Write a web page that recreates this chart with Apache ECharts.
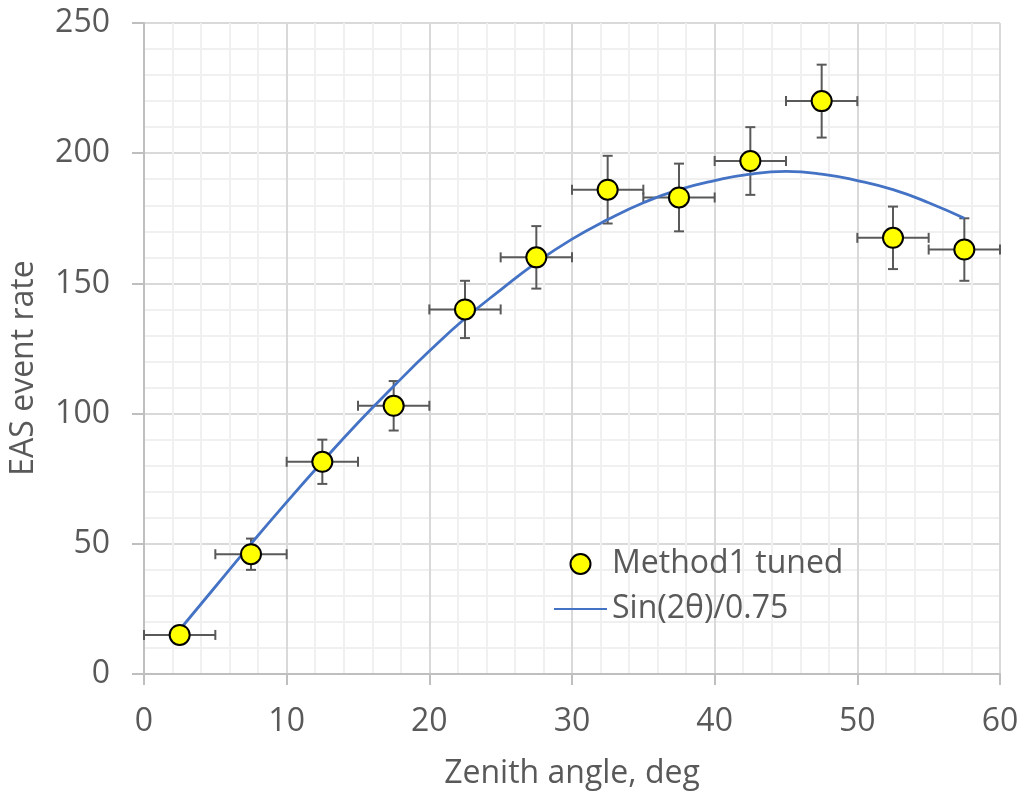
<!DOCTYPE html>
<html>
<head>
<meta charset="utf-8">
<script src="https://cdn.jsdelivr.net/npm/echarts@6/dist/echarts.min.js"></script>
<style>
  html, body { margin: 0; padding: 0; background: #fff; }
  #chart { width: 1023px; height: 793px; }
</style>
</head>
<body>
<div id="chart"></div>
<script>
// measured points: zenith angle bin centre, rate, errors
var angles = [2.5, 7.5, 12.5, 17.5, 22.5, 27.5, 32.5, 37.5, 42.5, 47.5, 52.5, 57.5];
var rates = [15, 46, 81.5, 103, 140, 160, 186, 183, 197, 220, 167.5, 163];
var rateErr = [3, 6, 8.5, 9.5, 11, 12, 13, 13, 13, 14, 12, 12];
var angleErr = [2.5, 2.5, 2.5, 2.5, 2.5, 2.5, 2.5, 2.5, 2.5, 2.5, 2.5, 2.5];

// sin curve
var curveAngles = [2.5, 5, 7.5, 10, 12.5, 15, 17.5, 20, 22.5, 25, 27.5, 30, 32.5, 35, 37.5, 40, 42.5, 45, 47.5, 50, 52.5, 55, 57.5];
var curveRates = [17, 33.5, 50, 66, 81.5, 96.5, 110.5, 124, 136.5, 147.5, 158, 167, 174.5, 181, 186, 189.5, 192, 193, 192, 189.5, 186, 181, 175];

var txt = '#595959';
var font = 'Open Sans';
var fs = 32;

var pts = [], errs = [], curve = [];
for (var i = 0; i < angles.length; i++) {
  pts.push([angles[i], rates[i]]);
  errs.push([angles[i], rates[i], angleErr[i], rateErr[i]]);
}
for (var j = 0; j < curveAngles.length; j++) {
  curve.push([curveAngles[j], curveRates[j]]);
}

var renderErr = function (params, api) {
  var x = api.value(0), y = api.value(1), dx = api.value(2), dy = api.value(3);
  var c = api.coord([x, y]);
  var l = api.coord([x - dx, y]), r = api.coord([x + dx, y]);
  var t = api.coord([x, y + dy]), b = api.coord([x, y - dy]);
  var cap = 5;
  var st = { stroke: '#595959', lineWidth: 2 };
  return {
    type: 'group',
    children: [
      { type: 'line', shape: { x1: l[0], y1: c[1], x2: r[0], y2: c[1] }, style: st },
      { type: 'line', shape: { x1: l[0], y1: c[1] - cap, x2: l[0], y2: c[1] + cap }, style: st },
      { type: 'line', shape: { x1: r[0], y1: c[1] - cap, x2: r[0], y2: c[1] + cap }, style: st },
      { type: 'line', shape: { x1: c[0], y1: t[1], x2: c[0], y2: b[1] }, style: st },
      { type: 'line', shape: { x1: c[0] - cap, y1: t[1], x2: c[0] + cap, y2: t[1] }, style: st },
      { type: 'line', shape: { x1: c[0] - cap, y1: b[1], x2: c[0] + cap, y2: b[1] }, style: st }
    ]
  };
};

var myChart = echarts.init(document.getElementById('chart'));
var option = {
  animation: false,
  backgroundColor: '#fff',
  textStyle: { fontFamily: font },
  grid: { left: 144, right: 23, top: 23, bottom: 119, outerBoundsMode: 'none' },
  // y title sits a little below the plot centre in the reference
  graphic: [{
    type: 'text',
    x: 24, y: 368,
    rotation: Math.PI / 2,
    style: {
      text: 'EAS event rate',
      fontFamily: font, fontSize: fs, fill: txt,
      align: 'center', verticalAlign: 'middle'
    }
  }],
  legend: {
    orient: 'vertical',
    left: 548,
    top: 543,
    itemGap: 13,
    itemWidth: 53,
    itemHeight: 20,
    textStyle: { fontFamily: font, fontSize: fs, color: txt },
    data: [
      { name: 'Method1 tuned' },
      { name: 'Sin(2θ)/0.75', itemStyle: { opacity: 0 } }
    ]
  },
  xAxis: {
    type: 'value',
    min: 0, max: 60, interval: 10,
    name: 'Zenith angle, deg',
    nameLocation: 'middle',
    nameGap: 84,
    nameTextStyle: { fontFamily: font, fontSize: fs, color: txt },
    axisLine: { show: true, lineStyle: { color: '#BFBFBF', width: 2 } },
    axisTick: { show: true, inside: false, length: 11, lineStyle: { color: '#BFBFBF', width: 2 } },
    axisLabel: { fontFamily: font, fontSize: fs, color: txt, margin: 32 },
    splitLine: { show: true, lineStyle: { color: '#D9D9D9', width: 2 } },
    minorTick: { show: false, splitNumber: 5 },
    minorSplitLine: { show: true, lineStyle: { color: '#F0F0F0', width: 2 } }
  },
  yAxis: {
    type: 'value',
    min: 0, max: 250, interval: 50,
    axisLine: { show: true, lineStyle: { color: '#BFBFBF', width: 2 } },
    axisTick: { show: true, inside: false, length: 12, lineStyle: { color: '#BFBFBF', width: 2 } },
    axisLabel: { fontFamily: font, fontSize: fs, color: txt, margin: 34 },
    splitLine: { show: true, lineStyle: { color: '#D9D9D9', width: 2 } },
    minorTick: { show: false, splitNumber: 5 },
    minorSplitLine: { show: true, lineStyle: { color: '#F0F0F0', width: 2 } }
  },
  series: [
    {
      type: 'custom',
      name: 'errors',
      renderItem: renderErr,
      data: errs,
      z: 2,
      silent: true
    },
    {
      type: 'line',
      name: 'Sin(2θ)/0.75',
      data: curve,
      smooth: true,
      symbol: 'none',
      lineStyle: { color: '#4472C4', width: 2.8 },
      itemStyle: { color: '#4472C4', opacity: 0 },
      z: 3
    },
    {
      type: 'scatter',
      name: 'Method1 tuned',
      data: pts,
      symbol: 'circle',
      symbolSize: 20,
      itemStyle: { color: '#FFFF00', borderColor: '#000', borderWidth: 2, opacity: 1 },
      z: 4
    }
  ]
};
myChart.setOption(option);
window.onresize = myChart.resize;
</script>
</body>
</html>
